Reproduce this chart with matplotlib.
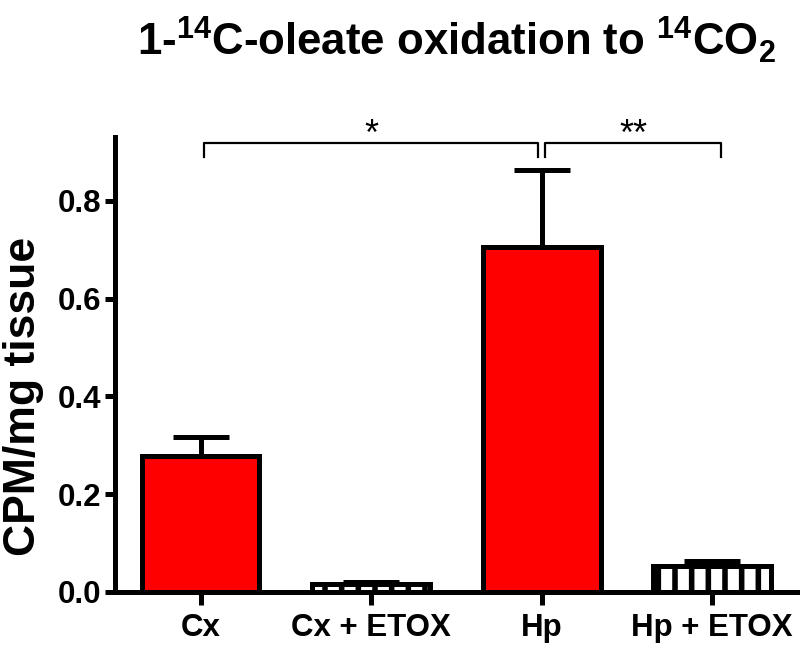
import matplotlib
matplotlib.use("Agg")
import matplotlib.pyplot as plt

groups = ['Cx', 'Cx + ETOX', 'Hp', 'Hp + ETOX']
means = [0.278, 0.016, 0.706, 0.053]
sems = [0.040, 0.004, 0.158, 0.011]
colors = ['#ff0000', 'white', '#ff0000', 'white']
hatches = ['', '|', '', '|']

plt.rcParams['font.family'] = ['Liberation Sans', 'DejaVu Sans']
plt.rcParams['font.weight'] = 'bold'
plt.rcParams['mathtext.default'] = 'regular'
plt.rcParams['hatch.linewidth'] = 4.0
plt.rcParams['hatch.color'] = 'black'

fig = plt.figure(figsize=(8, 6.46), dpi=100)
ax = fig.add_axes([0.144, 0.0836, 0.853, 0.7044])

x = list(range(len(groups)))
ax.bar(x, means, width=0.69, color=colors, edgecolor='black', linewidth=3.6,
       hatch=hatches, zorder=3)
ax.errorbar(x, means, yerr=[[0] * len(sems), sems], fmt='none', ecolor='black',
            elinewidth=3.6, capsize=20.5, capthick=3.6, zorder=2)

ax.set_xlim(-0.5, 3.5)
ax.set_ylim(0, 0.931)
ax.set_yticks([0.0, 0.2, 0.4, 0.6, 0.8])
ax.set_yticklabels(['0.0', '0.2', '0.4', '0.6', '0.8'])
ax.set_xticks(x)
ax.set_xticklabels(groups)
ax.tick_params(axis='y', labelsize=22.5, width=3.6, length=7, pad=3)
ax.tick_params(axis='x', labelsize=22.5, width=3.6, length=9, pad=6)
for s in ['top', 'right']:
    ax.spines[s].set_visible(False)
for s in ['left', 'bottom']:
    ax.spines[s].set_linewidth(3.6)
ax.set_ylabel('CPM/mg tissue', fontsize=32, fontweight='bold')
ax.yaxis.set_label_coords(-0.104, 0.43)

# significance brackets
def bracket(x0, x1, y, h, label):
    ax.plot([x0, x0, x1, x1], [y - h, y, y, y - h], color='black', lw=1.6,
            clip_on=False, zorder=4)
    ax.text((x0 + x1) / 2, y - 0.021, label, ha='center', va='bottom',
            fontsize=26, fontweight='normal', clip_on=False)

bracket(0.02, 1.98, 0.919, 0.029, '*')
bracket(2.02, 3.05, 0.919, 0.029, '**')

fig.text(0.571, 0.938, r'1-$^{14}$C-oleate oxidation to $^{14}$CO$_{2}$',
         ha='center', va='center', fontsize=31.5, fontweight='bold')

fig.savefig('out.png', dpi=100)
